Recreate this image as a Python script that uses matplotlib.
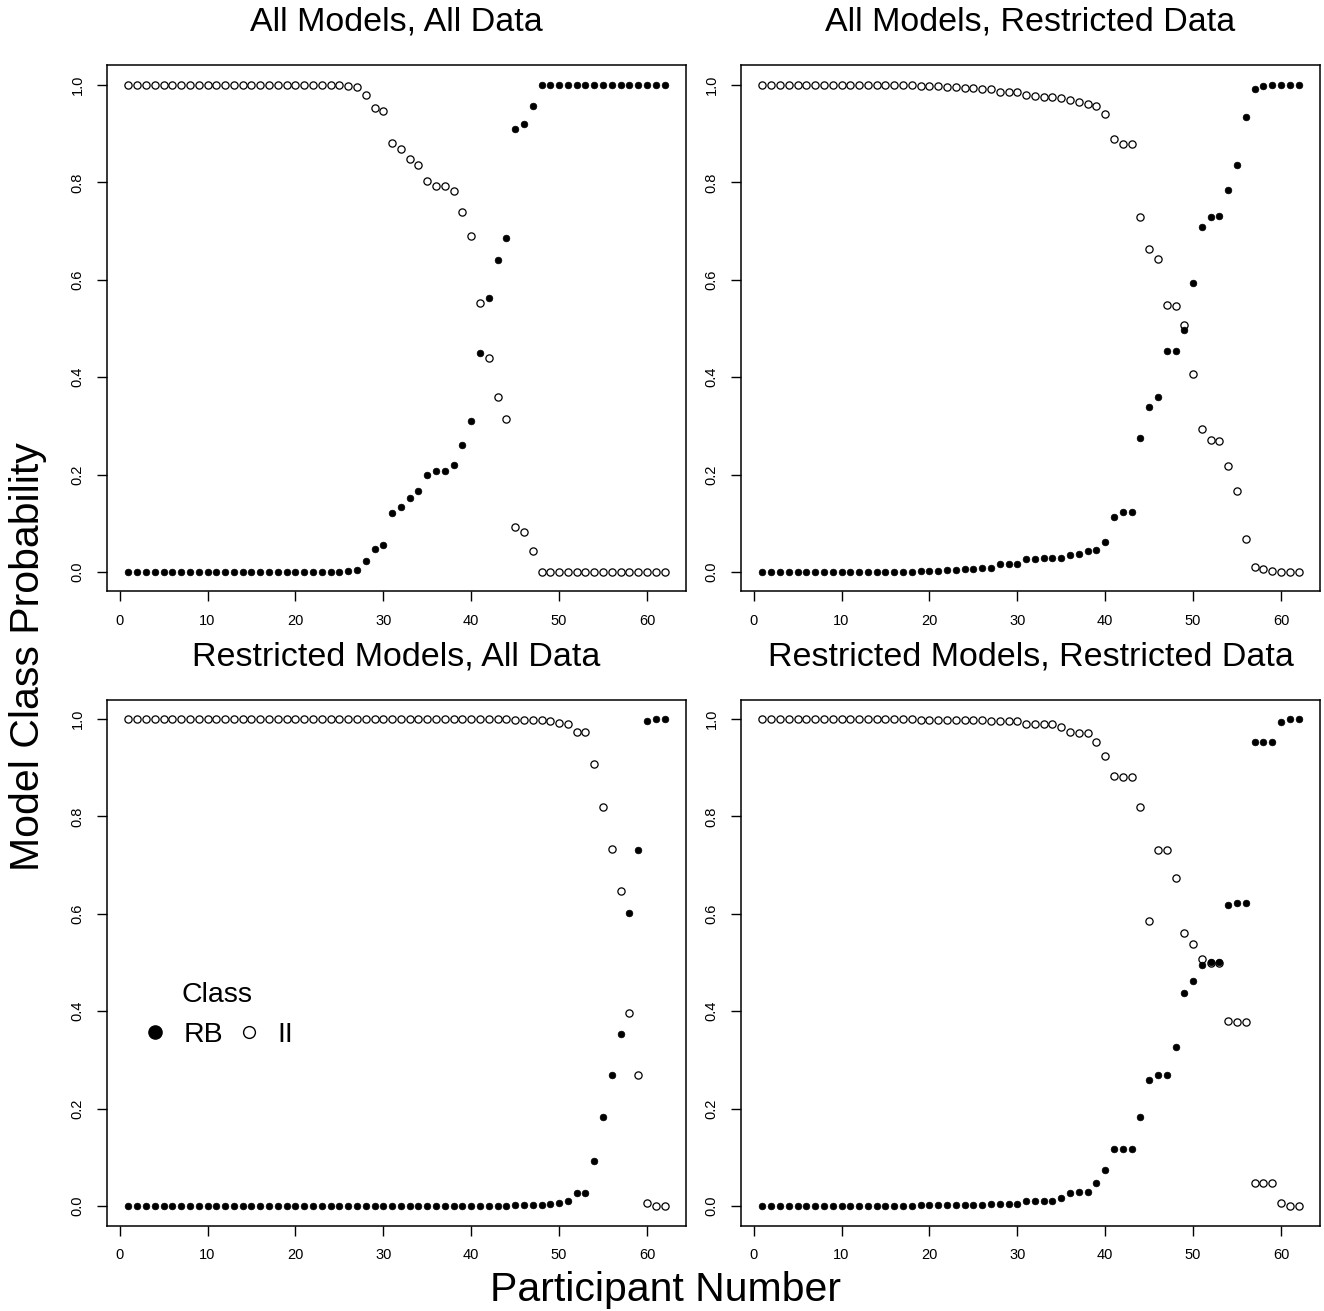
import numpy as np
import matplotlib.pyplot as plt
from matplotlib.lines import Line2D

plt.rcParams['font.family'] = ['Liberation Sans', 'DejaVu Sans']

participant = np.arange(1, 63)

# All Models, All Data
rb_aa = [0.0] * 25 + [0.002, 0.005, 0.022, 0.047, 0.055, 0.121, 0.133, 0.153, 0.167, 0.199,
                      0.208, 0.208, 0.219, 0.260, 0.310, 0.449, 0.562, 0.641, 0.686, 0.909,
                      0.920, 0.957] + [1.0] * 15
ii_aa = [1.0] * 25 + [0.998, 0.995, 0.979, 0.953, 0.946, 0.881, 0.868, 0.849, 0.835, 0.802,
                      0.793, 0.793, 0.783, 0.740, 0.690, 0.552, 0.440, 0.360, 0.315, 0.092,
                      0.082, 0.044] + [0.0] * 15

# All Models, Restricted Data
rb_ar = [0.0] * 15 + [0.001, 0.001, 0.001, 0.002, 0.002, 0.003, 0.004, 0.005, 0.006, 0.007,
                      0.008, 0.008, 0.017, 0.017, 0.017, 0.026, 0.026, 0.029, 0.029, 0.029,
                      0.035, 0.036, 0.043, 0.046, 0.062, 0.112, 0.124, 0.124, 0.275, 0.339,
                      0.359, 0.454, 0.454, 0.496, 0.594, 0.709, 0.729, 0.732, 0.784, 0.836,
                      0.934, 0.991, 0.997, 0.999, 1.0, 1.0, 1.0]
ii_ar = [1.0] * 15 + [0.999, 0.999, 0.999, 0.998, 0.998, 0.997, 0.996, 0.995, 0.994, 0.993,
                      0.992, 0.992, 0.986, 0.986, 0.986, 0.979, 0.977, 0.975, 0.975, 0.974,
                      0.969, 0.965, 0.960, 0.957, 0.940, 0.890, 0.879, 0.879, 0.728, 0.663,
                      0.643, 0.549, 0.547, 0.508, 0.407, 0.294, 0.272, 0.270, 0.218, 0.166,
                      0.067, 0.010, 0.007, 0.003, 0.001, 0.0, 0.0]

# Restricted Models, All Data
rb_ra = [0.0] * 40 + [0.001, 0.001, 0.001, 0.001, 0.002, 0.002, 0.003, 0.003, 0.005, 0.006,
                      0.010, 0.027, 0.027, 0.093, 0.182, 0.268, 0.353, 0.602, 0.731, 0.996,
                      0.999, 1.0]
ii_ra = [1.0] * 40 + [0.999, 0.999, 0.999, 0.999, 0.998, 0.998, 0.997, 0.997, 0.995, 0.992,
                      0.989, 0.974, 0.974, 0.907, 0.819, 0.733, 0.647, 0.397, 0.269, 0.007,
                      0.001, 0.001]

# Restricted Models, Restricted Data
rb_rr = [0.0] * 12 + [0.001, 0.001, 0.001, 0.001, 0.001, 0.001, 0.002, 0.002, 0.002, 0.002,
                      0.003, 0.003, 0.003, 0.003, 0.004, 0.004, 0.004, 0.005, 0.010, 0.010,
                      0.010, 0.010, 0.017, 0.026, 0.028, 0.028, 0.047, 0.074, 0.118, 0.118,
                      0.118, 0.182, 0.258, 0.268, 0.268, 0.326, 0.438, 0.462, 0.494, 0.501,
                      0.501, 0.619, 0.622, 0.622, 0.953, 0.953, 0.953, 0.994, 0.999, 0.999]
ii_rr = [1.0] * 12 + [0.999, 0.999, 0.999, 0.999, 0.999, 0.999, 0.998, 0.998, 0.998, 0.998,
                      0.997, 0.997, 0.997, 0.997, 0.996, 0.996, 0.996, 0.995, 0.990, 0.990,
                      0.990, 0.990, 0.984, 0.974, 0.972, 0.972, 0.953, 0.925, 0.883, 0.881,
                      0.881, 0.819, 0.585, 0.732, 0.732, 0.674, 0.561, 0.538, 0.507, 0.499,
                      0.499, 0.380, 0.378, 0.378, 0.047, 0.047, 0.047, 0.006, 0.001, 0.001]

titles = ['All Models, All Data', 'All Models, Restricted Data',
          'Restricted Models, All Data', 'Restricted Models, Restricted Data']
rb_all = [rb_aa, rb_ar, rb_ra, rb_rr]
ii_all = [ii_aa, ii_ar, ii_ra, ii_rr]

W, H = 1324, 1311
fig = plt.figure(figsize=(W / 100, H / 100), dpi=100)

# axes boxes in pixels: left, top
boxes = [(107, 65.5), (741, 65.5), (107, 699.5), (741, 699.5)]
bw, bh = 579, 526

axes = []
for (lft, top), title, rb, ii in zip(boxes, titles, rb_all, ii_all):
    ax = fig.add_axes([lft / W, 1 - (top + bh) / H, bw / W, bh / H])
    ax.plot(participant, ii, 'o', mfc='none', mec='black', ms=5.2, mew=0.9)
    ax.plot(participant, rb, 'o', mfc='black', mec='black', ms=4.8, mew=0.5)
    ax.set_xlim(-1.44, 64.44)
    ax.set_ylim(-0.04, 1.04)
    ax.set_xticks([0, 10, 20, 30, 40, 50, 60])
    ax.set_yticks([0.0, 0.2, 0.4, 0.6, 0.8, 1.0])
    ax.set_yticklabels(['0.0', '0.2', '0.4', '0.6', '0.8', '1.0'])
    ax.tick_params(direction='out', length=7, width=1, labelsize=10.5, pad=9)
    for lab in ax.get_yticklabels():
        lab.set_rotation(90)
        lab.set_va('center')
    for sp in ax.spines.values():
        sp.set_linewidth(1.1)
    ax.text(0.5, 1 + 43 / bh, title, transform=ax.transAxes, ha='center', va='center',
            fontsize=24.5)
    axes.append(ax)

handles = [Line2D([], [], ls='none', marker='o', mfc='black', mec='black', ms=9.5),
           Line2D([], [], ls='none', marker='o', mfc='none', mec='black', ms=8.5, mew=1)]
leg = axes[2].legend(handles, ['RB', 'II'], title='Class', ncol=2, frameon=False,
                     loc='center', bbox_to_anchor=(0.19, 0.40), fontsize=20.5,
                     title_fontsize=20.5, handletextpad=0.5, columnspacing=0.4,
                     handlelength=1.0)

fig.text(28 / W, 1 - 657 / H, 'Model Class Probability', rotation=90, ha='center',
         va='center', fontsize=29.5)
fig.text(666 / W, 1 - 1290 / H, 'Participant Number', ha='center', va='center',
         fontsize=29.5)

fig.savefig('out.png', dpi=100)
